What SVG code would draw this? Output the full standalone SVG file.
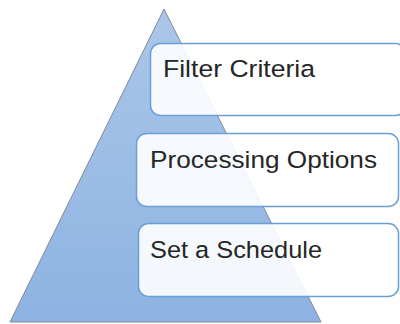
<svg xmlns="http://www.w3.org/2000/svg" width="400" height="324" viewBox="0 0 400 324">
<defs>
<linearGradient id="tri" x1="0" y1="0" x2="0" y2="1">
<stop offset="0" stop-color="#abc6e8"/>
<stop offset="1" stop-color="#8db3e2"/>
</linearGradient>
<style>
.box{fill:#ffffff;fill-opacity:0.9;stroke:#6a9fd8;stroke-width:1.5}
.lbl{font-family:"Liberation Sans",Arial,sans-serif;font-size:24.5px;fill:#262626}
</style>
</defs>
<rect width="400" height="324" fill="#ffffff"/>
<g id="pyramid">
<polygon points="164,9 10,322 321,322" fill="url(#tri)" stroke="#7f8a99" stroke-width="1"/>
</g>
<g id="connectors"></g>
<g id="filter-criteria">
<rect class="box" x="150.5" y="43.5" width="255" height="72" rx="10"/>
<text class="lbl" x="163" y="77" textLength="152" lengthAdjust="spacingAndGlyphs">Filter Criteria</text>
</g>
<g id="processing-options">
<rect class="box" x="136.5" y="133.5" width="262" height="73" rx="10"/>
<text class="lbl" x="150" y="168" textLength="227" lengthAdjust="spacingAndGlyphs">Processing Options</text>
</g>
<g id="set-a-schedule">
<rect class="box" x="138.5" y="223.5" width="260" height="73" rx="10"/>
<text class="lbl" x="150" y="258" textLength="172" lengthAdjust="spacingAndGlyphs">Set a Schedule</text>
</g>
</svg>
